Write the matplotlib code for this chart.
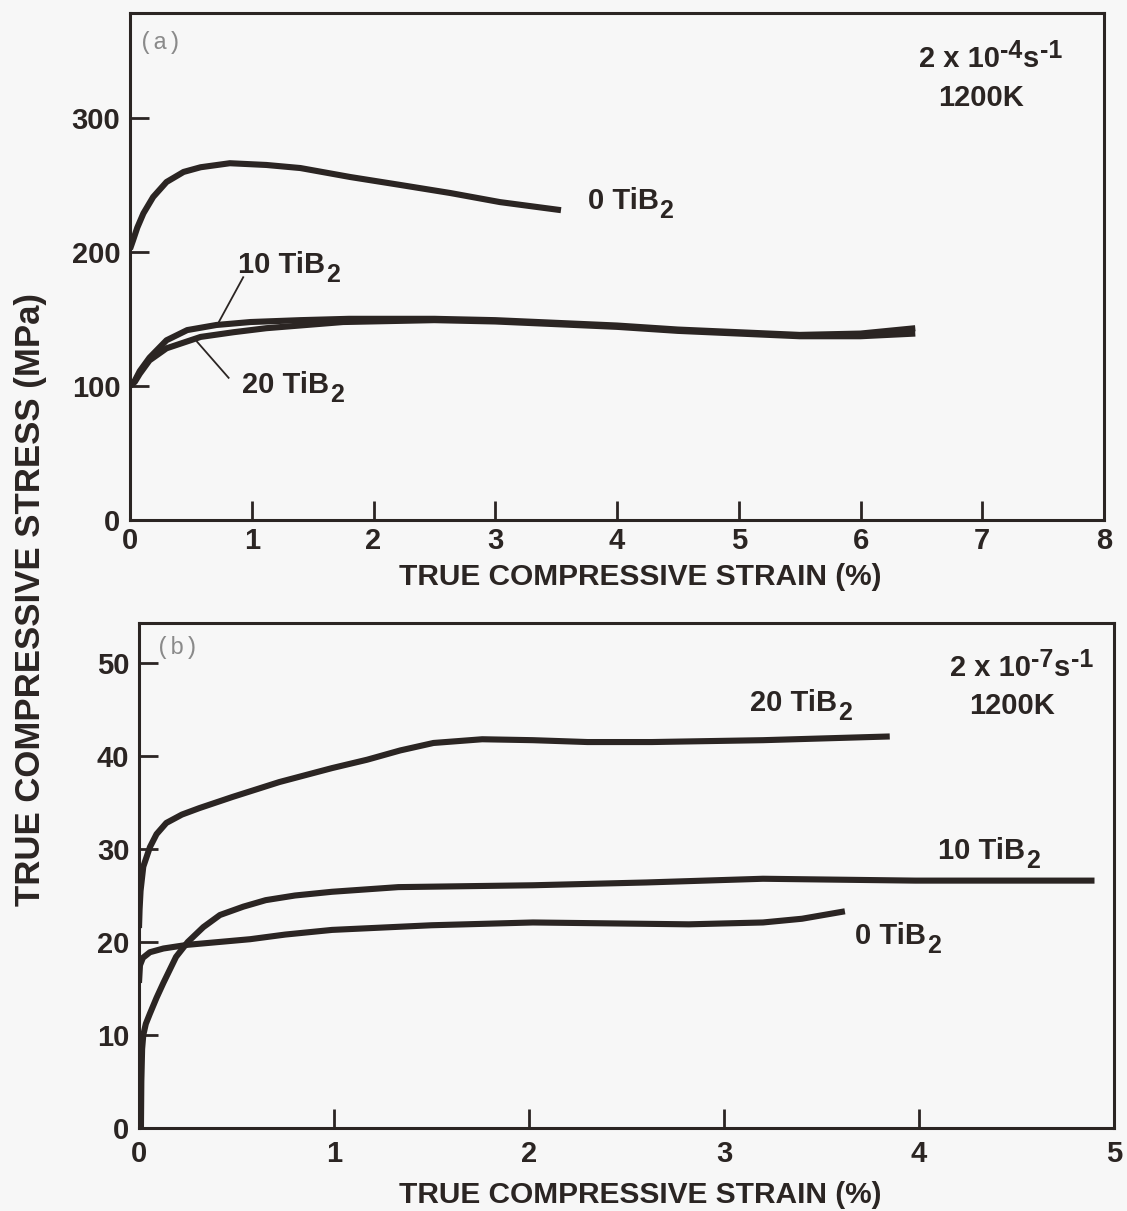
import matplotlib
matplotlib.use("Agg")
import matplotlib.pyplot as plt

plt.rcParams['font.family'] = ['Liberation Sans', 'DejaVu Sans']
plt.rcParams['font.weight'] = 'bold'

# ---------------- data: panel (a), 2e-4 /s, 1200 K ----------------
a_x_0 = [0, 0.025, 0.06, 0.11, 0.19, 0.30, 0.44, 0.58, 0.82, 1.12, 1.40, 1.81, 2.22, 2.63, 3.04, 3.54]
a_y_0 = [202, 208.5, 218, 228.6, 240.8, 252, 259.5, 263, 266, 264.7, 262.4, 255.7, 249.8, 243.8, 237, 231]

a_x_10 = [0, 0.04, 0.08, 0.16, 0.30, 0.47, 0.71, 0.99, 1.4, 1.8, 2.5, 3.0, 3.5, 4.0, 4.5, 5.0, 5.5, 6.0, 6.45]
a_y_10 = [100, 104, 111, 121, 134, 141.6, 145.4, 147.6, 149, 150, 150, 149, 147, 145, 142, 140, 138, 139, 143]

a_x_20 = [0, 0.04, 0.08, 0.16, 0.30, 0.58, 0.85, 1.12, 1.75, 2.5, 3.0, 3.5, 4.0, 4.5, 5.0, 5.5, 6.0, 6.45]
a_y_20 = [100, 103, 109, 119, 128, 136.5, 140, 143, 147.6, 149, 148, 146, 144, 141, 139, 137, 137, 139]

# ---------------- data: panel (b), 2e-7 /s, 1200 K ----------------
b_x_20 = [0, 0.003, 0.008, 0.022, 0.056, 0.09, 0.14, 0.22, 0.31, 0.48, 0.72, 0.99, 1.17, 1.34, 1.51, 1.76, 2.02, 2.3, 2.63, 3.2, 3.85]
b_y_20 = [21.5, 23.5, 25.5, 28.1, 30.2, 31.6, 32.8, 33.7, 34.4, 35.6, 37.2, 38.7, 39.6, 40.6, 41.4, 41.8, 41.7, 41.5, 41.5, 41.7, 42.1]

b_x_10 = [0.01, 0.012, 0.016, 0.022, 0.035, 0.056, 0.09, 0.125, 0.19, 0.25, 0.33, 0.415, 0.535, 0.65, 0.8, 0.99, 1.33, 2.02, 2.6, 3.2, 3.98, 4.9]
b_y_10 = [0, 5.0, 8.5, 10.0, 11.2, 12.3, 14.0, 15.6, 18.4, 20.0, 21.6, 22.9, 23.8, 24.5, 25.0, 25.4, 25.9, 26.1, 26.4, 26.8, 26.6, 26.6]

b_x_0 = [0, 0.005, 0.02, 0.056, 0.125, 0.25, 0.57, 0.75, 0.99, 1.5, 2.02, 2.82, 3.2, 3.4, 3.62]
b_y_0 = [15.6, 17.5, 18.3, 18.9, 19.3, 19.7, 20.3, 20.8, 21.3, 21.8, 22.1, 21.9, 22.1, 22.5, 23.3]

a_xticks = [0, 1, 2, 3, 4, 5, 6, 7, 8]
a_yticks = [0, 100, 200, 300]
b_xticks = [0, 1, 2, 3, 4, 5]
b_yticks = [0, 10, 20, 30, 40, 50]

W, H = 1127, 1211
fig = plt.figure(figsize=(W / 100, H / 100), dpi=100)
bg = '#f7f7f7'
fig.patch.set_facecolor(bg)
ink = '#2b2523'
lw_curve = 4.4
FS = 21
SUBFS = 18

def frac(l, t, r, b):
    return [l / W, 1 - b / H, (r - l) / W, (b - t) / H]

axa = fig.add_axes(frac(130, 13, 1104, 520))
axb = fig.add_axes(frac(139, 623, 1114, 1128))

for ax in (axa, axb):
    ax.set_facecolor(bg)
    for s in ax.spines.values():
        s.set_linewidth(2.2)
        s.set_color(ink)
    ax.tick_params(direction='in', length=14, width=2, color=ink,
                   labelsize=21, labelcolor=ink)
    ax.tick_params(axis='y', pad=7)

axa.tick_params(axis='x', pad=5)
axb.tick_params(axis='x', pad=9)


def curve(ax, x, y):
    ax.plot(x, y, color=ink, lw=lw_curve, solid_capstyle='butt',
            solid_joinstyle='round')


def sub_label(ax, x, y, main, sub):
    t = ax.text(x, y, main, fontsize=FS, color=ink, va='baseline', ha='left')
    ax.annotate(sub, xy=(1, 0), xycoords=t, xytext=(0.5, -2.2),
                textcoords='offset points', fontsize=SUBFS, color=ink,
                va='baseline', ha='left')


def rate_label(ax, x, y, exp):
    t = ax.text(x, y, '2 x 10', fontsize=FS, color=ink, va='baseline', ha='left')
    a1 = ax.annotate(exp, xy=(1, 0), xycoords=t, xytext=(0.3, 10.5),
                     textcoords='offset points', fontsize=SUBFS, color=ink,
                     va='baseline', ha='left')
    a2 = ax.annotate('s', xy=(1, 0), xycoords=(a1, t), xytext=(0.3, 4.4),
                     textcoords='offset points', fontsize=FS, color=ink,
                     va='baseline', ha='left')
    ax.annotate('-1', xy=(1, 0), xycoords=(a2, t), xytext=(0.3, 10.5),
                textcoords='offset points', fontsize=SUBFS, color=ink,
                va='baseline', ha='left')


# panel a
curve(axa, a_x_0, a_y_0)
curve(axa, a_x_10, a_y_10)
curve(axa, a_x_20, a_y_20)
axa.set_xlim(0, 8)
axa.set_ylim(0, 378)
axa.set_xticks(a_xticks)
axa.set_yticks(a_yticks)

axa.text(0.07, 356, '(a)', family='Liberation Mono', fontweight='normal',
         fontsize=17, color='#8a8a8a', va='center', ha='left')
sub_label(axa, 3.76, 232, '0 TiB', '2')
sub_label(axa, 0.887, 184, '10 TiB', '2')
sub_label(axa, 0.92, 94.7, '20 TiB', '2')
axa.plot([0.93, 0.72], [181, 146], color=ink, lw=1.3)
axa.plot([0.55, 0.81], [133, 106], color=ink, lw=1.3)
rate_label(axa, 6.48, 337.7, '-4')
axa.text(6.64, 308.7, '1200K', fontsize=FS, color=ink, va='baseline', ha='left')

# panel b
curve(axb, b_x_20, b_y_20)
curve(axb, b_x_10, b_y_10)
curve(axb, b_x_0, b_y_0)
axb.set_xlim(0, 5)
axb.set_ylim(0, 54.3)
axb.set_xticks(b_xticks)
axb.set_yticks(b_yticks)

axb.text(0.085, 51.7, '(b)', family='Liberation Mono', fontweight='normal',
         fontsize=17, color='#8a8a8a', va='center', ha='left')
sub_label(axb, 3.133, 44.8, '20 TiB', '2')
rate_label(axb, 4.159, 48.6, '-7')
axb.text(4.256, 44.5, '1200K', fontsize=FS, color=ink, va='baseline', ha='left')
sub_label(axb, 4.097, 28.9, '10 TiB', '2')
sub_label(axb, 3.672, 19.8, '0 TiB', '2')

fig.text(640 / W, 1 - 577 / H, 'TRUE COMPRESSIVE STRAIN (%)', fontsize=21.5,
         color=ink, ha='center', va='center')
fig.text(640 / W, 1 - 1195 / H, 'TRUE COMPRESSIVE STRAIN (%)', fontsize=21.5,
         color=ink, ha='center', va='center')
fig.text(31 / W, 1 - 600 / H, 'TRUE COMPRESSIVE STRESS (MPa)', fontsize=25,
         color=ink, ha='center', va='center', rotation=90)

fig.savefig('out.png', dpi=100, facecolor=bg)
